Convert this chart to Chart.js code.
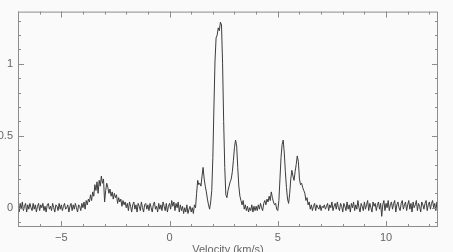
<!DOCTYPE html>
<html>
<head>
<meta charset="utf-8">
<script src="https://cdn.jsdelivr.net/npm/chart.js@4/dist/chart.umd.min.js"></script>
<style>
  body { margin: 0; background: #fafafa; }
  canvas { display: block; }
</style>
</head>
<body>
<canvas id="spectrum" width="453" height="252"></canvas>
<script>
// velocity grid of the spectrum (km/s)
const vStart = -7.0;
const vStep = 0.05;

// antenna temperature, -7.0 .. -2.05
const tLeft = [
  0.02, -0.03, 0.03, -0.01, 0.04, -0.02, 0.01, 0.03, -0.03, 0.02, -0.01, 0.03, 0.0, -0.02, 0.03, -0.01, 0.02, -0.03, 0.01, 0.03,
  -0.02, 0.02, 0.0, 0.03, -0.02, 0.01, -0.03, 0.02, 0.03, -0.01, 0.01, -0.02, 0.03, 0.0, -0.03, 0.02, 0.01, -0.02, 0.03, -0.01,
  0.02, -0.02, 0.01, 0.03, -0.01, 0.0, 0.02, -0.03, 0.01, 0.03, -0.02, 0.02, -0.01, 0.03, 0.0, -0.03, 0.02, 0.01, -0.02, 0.03,
  0.0, 0.04, -0.01, 0.05, 0.02, 0.06, 0.04, 0.09, 0.05, 0.11, 0.08, 0.16, 0.12, 0.18, 0.1, 0.19, 0.15, 0.22, 0.17, 0.2,
  0.04, 0.12, 0.17, 0.14, 0.1, 0.13, 0.08, 0.11, 0.06, 0.1, 0.07, 0.09, 0.03, 0.07, 0.04, 0.06, 0.01, 0.05, 0.02, 0.04
];

// -2.0 .. 6.95 (the lines)
const tMid = [
  0.0, 0.03, -0.02, 0.04, 0.01, -0.03, 0.02, 0.04, -0.01, 0.02, -0.03, 0.03, 0.01, -0.02, 0.04, 0.0, -0.03, 0.02, 0.03, -0.01,
  0.02, -0.02, 0.03, 0.0, -0.03, 0.02, 0.04, -0.01, 0.01, -0.03, 0.03, -0.01, 0.02, -0.02, 0.04, 0.01, -0.02, 0.03, -0.03, 0.01,
  0.03, -0.01, 0.05, 0.01, 0.04, -0.02, 0.03, 0.0, 0.04, -0.03, 0.02, -0.02, 0.01, -0.04, 0.0, -0.03, 0.02, -0.04, -0.01, 0.01,
  -0.03, 0.0, -0.04, 0.02, 0.0, 0.1, 0.19, 0.16, 0.17, 0.15, 0.22, 0.28, 0.2, 0.15, 0.11, 0.06, 0.02, -0.01, 0.04, 0.12,
  0.35, 0.7, 1.02, 1.18, 1.2, 1.25, 1.23, 1.29, 1.27, 1.0, 0.6, 0.28, 0.09, 0.07, 0.12, 0.15, 0.18, 0.2, 0.25, 0.33,
  0.42, 0.47, 0.43, 0.28, 0.15, 0.08, 0.05, 0.02, 0.05, -0.01, 0.02, -0.02, 0.01, -0.03, 0.0, -0.02, 0.02, -0.03, 0.01, -0.02,
  0.01, -0.02, 0.02, -0.01, 0.03, 0.0, -0.02, 0.03, 0.05, 0.02, 0.06, 0.04, 0.08, 0.05, 0.11, 0.07, 0.04, 0.02, 0.03, -0.01,
  -0.02, 0.05, 0.2, 0.35, 0.44, 0.47, 0.38, 0.25, 0.14, 0.06, 0.03, 0.1, 0.2, 0.26, 0.22, 0.19, 0.25, 0.3, 0.36, 0.32,
  0.2, 0.16, 0.17, 0.14, 0.12, 0.1, 0.05, 0.07, 0.02, 0.04, -0.01, 0.02, -0.02, 0.01, 0.03, -0.02, 0.02, 0.0, -0.01, 0.02
];

// 7.0 .. 12.4
const tRight = [
  -0.02, 0.01, 0.0, 0.02, -0.01, 0.01, 0.03, -0.02, 0.02, 0.0, 0.04, -0.02, 0.01, 0.03, -0.01, 0.04, 0.0, -0.02, 0.03, 0.01,
  -0.03, 0.03, 0.01, -0.02, 0.04, -0.01, 0.02, -0.03, 0.03, 0.0, 0.04, -0.02, 0.02, -0.01, 0.05, 0.0, -0.03, 0.03, 0.01, -0.02,
  0.04, -0.01, 0.02, 0.05, -0.02, 0.03, 0.0, -0.03, 0.04, 0.01, 0.03, -0.02, 0.02, 0.04, -0.01, 0.03, -0.06, 0.02, 0.05, -0.02,
  0.03, 0.0, 0.05, -0.02, 0.02, 0.04, -0.01, 0.03, 0.05, -0.03, 0.02, 0.04, 0.0, -0.02, 0.03, 0.05, -0.01, 0.02, 0.04, -0.02,
  0.02, 0.05, -0.01, 0.03, -0.03, 0.04, 0.0, 0.02, 0.05, -0.02, 0.03, 0.01, -0.03, 0.04, 0.02, -0.01, 0.03, 0.05, -0.02, 0.02,
  0.04, -0.01, 0.03, 0.05, 0.0, 0.03, -0.02, 0.04, 0.02
];

const xTicks = [-5, 0, 5, 10];
const yTicks = [0, 0.5, 1];
const xMinor = [-7, -6, -5, -4, -3, -2, -1, 0, 1, 2, 3, 4, 5, 6, 7, 8, 9, 10, 11, 12];
const yMinor = [-0.1, 0, 0.1, 0.2, 0.3, 0.4, 0.5, 0.6, 0.7, 0.8, 0.9, 1, 1.1, 1.2, 1.3];
const xTitle = "Velocity (km/s)";

const temps = tLeft.concat(tMid, tRight);
const puntos = temps.map((t, i) => ({ x: +(vStart + i * vStep).toFixed(2), y: t }));

// frame with inward ticks on all four sides
const marco = {
  id: "marco",
  afterDraw(chart) {
    const { ctx, chartArea: a, scales } = chart;
    ctx.save();
    ctx.strokeStyle = "#8c8c8c";
    ctx.lineWidth = 1;
    ctx.strokeRect(a.left + 0.5, a.top + 0.5, a.right - a.left - 1, a.bottom - a.top - 1);
    ctx.beginPath();
    xMinor.forEach((v) => {
      const px = Math.round(scales.x.getPixelForValue(v)) + 0.5;
      const len = xTicks.includes(v) ? 6 : 3;
      ctx.moveTo(px, a.top);
      ctx.lineTo(px, a.top + len);
      ctx.moveTo(px, a.bottom);
      ctx.lineTo(px, a.bottom - len);
    });
    yMinor.forEach((v) => {
      const py = Math.round(scales.y.getPixelForValue(v)) + 0.5;
      const len = yTicks.includes(v) ? 6 : 3;
      ctx.moveTo(a.left, py);
      ctx.lineTo(a.left + len, py);
      ctx.moveTo(a.right, py);
      ctx.lineTo(a.right - len, py);
    });
    ctx.stroke();
    ctx.restore();
  },
};

const fuente = { family: "'Liberation Sans', Arial, sans-serif", size: 11 };

new Chart(document.getElementById("spectrum"), {
  type: "line",
  data: {
    datasets: [
      {
        data: puntos,
        borderColor: "#3c3c3c",
        borderWidth: 1,
        pointRadius: 0,
        tension: 0,
        fill: false,
      },
    ],
  },
  options: {
    responsive: false,
    animation: false,
    devicePixelRatio: 1,
    layout: { padding: { top: 7, right: 15, left: 0, bottom: 0 } },
    plugins: { legend: { display: false }, tooltip: { enabled: false } },
    scales: {
      x: {
        type: "linear",
        min: -7,
        max: 12.4,
        grid: { display: false, drawTicks: false },
        border: { display: false },
        afterFit: (s) => { s.height = 25; },
        afterBuildTicks: (s) => { s.ticks = xTicks.map((v) => ({ value: v })); },
        ticks: {
          padding: 4,
          color: "#666",
          font: fuente,
          maxRotation: 0,
          callback: (v) => String(v).replace("-", "\u2212"),
        },
        title: {
          display: true,
          text: xTitle,
          color: "#666",
          font: fuente,
          padding: { top: 0, bottom: -5 },
        },
      },
      y: {
        min: -0.134,
        max: 1.363,
        grid: { display: false, drawTicks: false },
        border: { display: false },
        afterFit: (s) => { s.width = 18; },
        afterBuildTicks: (s) => { s.ticks = yTicks.map((v) => ({ value: v })); },
        ticks: { padding: 5, color: "#666", font: fuente, callback: (v) => String(v) },
      },
    },
  },
  plugins: [marco],
});
</script>
</body>
</html>
